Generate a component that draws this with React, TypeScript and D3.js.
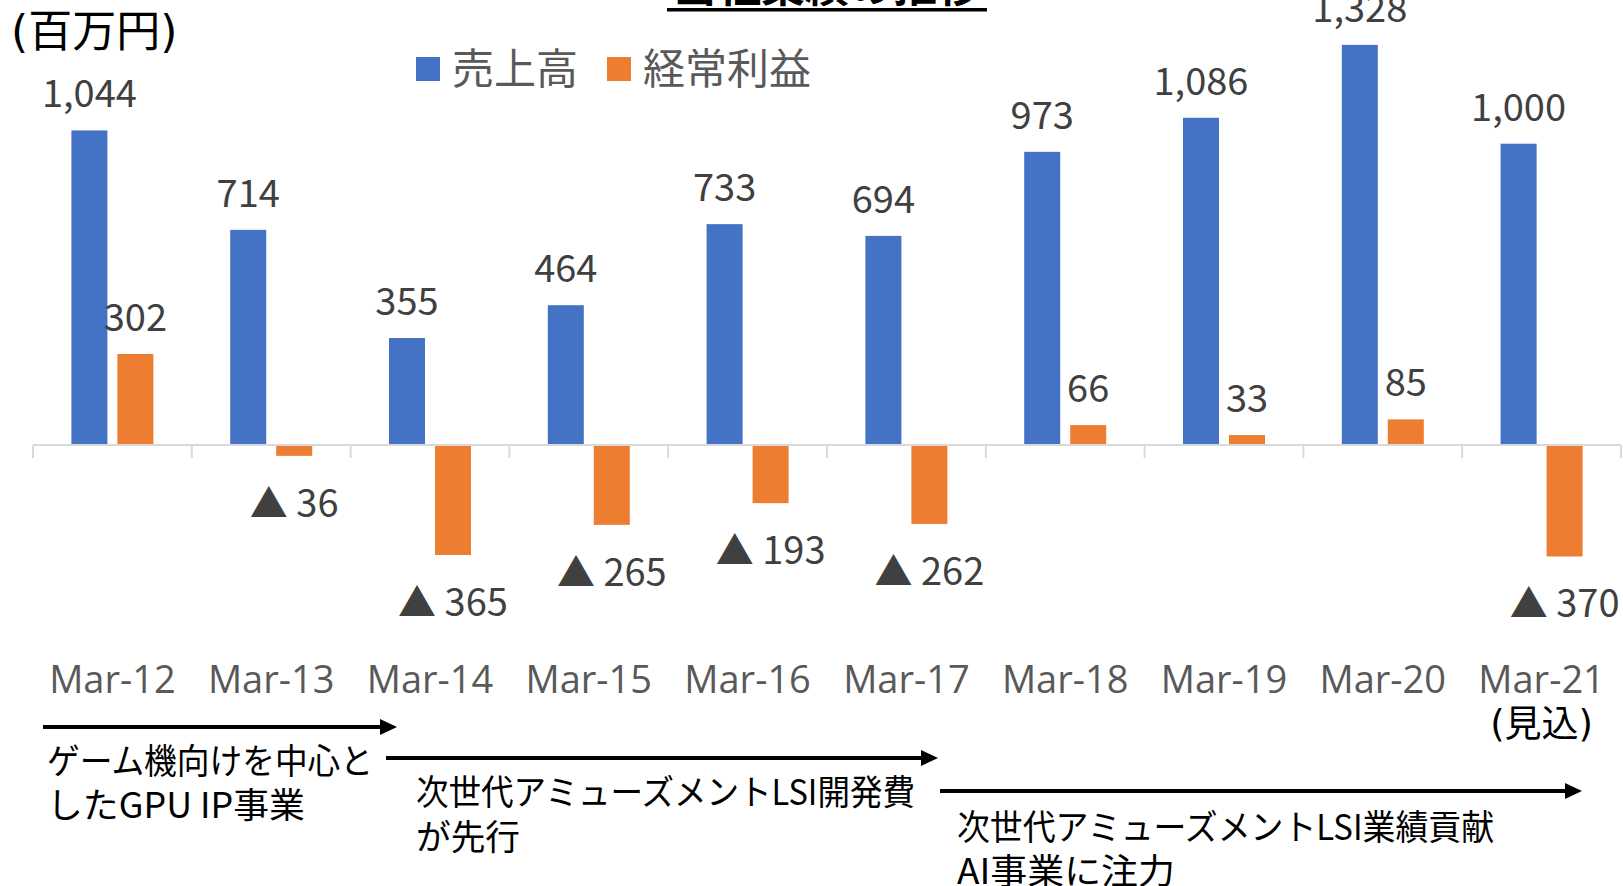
import React from "react";
import * as d3 from "d3";

const categories = ["Mar-12", "Mar-13", "Mar-14", "Mar-15", "Mar-16", "Mar-17", "Mar-18", "Mar-19", "Mar-20", "Mar-21"];
const sales = [1044, 714, 355, 464, 733, 694, 973, 1086, 1328, 1000];
const profit = [302, -36, -365, -265, -193, -262, 66, 33, 85, -370];
const seriesNames = ["売上高", "経常利益"];
const seriesKeys = ["sales", "profit"];
const colors = ["#4472C4", "#ED7D31"];
const titleText = "当社業績の推移";
const unitText = "(百万円)";
const forecastNote = "(見込)";
const phaseTexts = [
  ["ゲーム機向けを中心と", "したGPU IP事業"],
  ["次世代アミューズメントLSI開発費", "が先行"],
  ["次世代アミューズメントLSI業績貢献", "AI事業に注力"],
];

const W = 1623;
const H = 886;
const JP = "'Noto Sans CJK JP', 'Noto Sans', sans-serif";
const MIX = "'DejaVu Sans', 'Noto Sans CJK JP', sans-serif";
const LAT = "'Open Sans', 'Noto Sans', sans-serif";

export default function App() {
  const x = d3.scaleBand<string>().domain(categories).range([33, 1621]);
  const bw = x.bandwidth();
  const inner = d3
    .scaleBand<string>()
    .domain(seriesKeys)
    .range([0, bw])
    .paddingInner(0.217)
    .paddingOuter(0.835);
  const k = 0.3013;
  const zeroY = 445;
  const y = d3.scaleLinear().domain([-400, 1400]).range([zeroY + 400 * k, zeroY - 1400 * k]);
  const fmt = d3.format(",");
  const label = (v: number) => (v < 0 ? "▲ " + fmt(-v) : fmt(v));

  const rows = categories.map((c, i) => ({ c, vals: [sales[i], profit[i]] }));

  const arrows = [
    { x1: 43, x2: 397, y: 727 },
    { x1: 386, x2: 938, y: 758 },
    { x1: 940, x2: 1582, y: 791 },
  ];
  const phasePos = [
    { x: 47, y1: 774, y2: 818, w1: 326, w2: 258 },
    { x: 416, y1: 805, y2: 850, w1: 499, w2: 104 },
    { x: 957, y1: 840, y2: 884, w1: 537, w2: 218 },
  ];

  return (
    <svg
      width={W}
      height={H}
      viewBox={`0 0 ${W} ${H}`}
      style={{ position: "absolute", left: 0, top: 0, background: "#fff" }}
    >
      <rect x={0} y={0} width={W} height={H} fill="#fff" />
      <text x={827} y={2} textAnchor="middle" fontFamily={JP} fontSize={44} fontWeight={700} fill="#000">
        {titleText}
      </text>
      <rect x={667} y={8} width={320} height={3.5} fill="#000" />

      <text x={11} y={47} fontFamily={MIX} fontSize={44} fill="#000">
        {unitText}
      </text>

      {seriesNames.map((n, i) => {
        const lx = i === 0 ? 416 : 607;
        return (
          <g key={n}>
            <rect x={lx} y={57} width={24} height={24} fill={colors[i]} />
            <text x={lx + 36} y={84} fontFamily={JP} fontSize={42} fill="#595959">
              {n}
            </text>
          </g>
        );
      })}

      {rows.map((r) => (
        <g key={r.c} transform={`translate(${x(r.c)},0)`}>
          {r.vals.map((v, j) => {
            const bx = inner(seriesKeys[j])!;
            const top = Math.min(y(v), y(0));
            const h = Math.abs(y(v) - y(0));
            return <rect key={j} x={bx} y={top} width={inner.bandwidth()} height={h} fill={colors[j]} />;
          })}
        </g>
      ))}

      <line x1={x.range()[0]} x2={x.range()[1]} y1={zeroY} y2={zeroY} stroke="#d9d9d9" strokeWidth={2} />
      {[...categories.map((c) => x(c)!), x.range()[1]].map((tx, i) => (
        <line key={i} x1={tx} x2={tx} y1={zeroY} y2={zeroY + 13} stroke="#d9d9d9" strokeWidth={2} />
      ))}

      {rows.map((r) => (
        <g key={r.c + "l"} transform={`translate(${x(r.c)},0)`}>
          {r.vals.map((v, j) => {
            const cx = inner(seriesKeys[j])! + inner.bandwidth() / 2;
            const ly = v >= 0 ? y(v) - 23 : y(v) + 61;
            return (
              <text key={j} x={cx} y={ly} textAnchor="middle" fontFamily={JP} fontSize={38} fill="#404040">
                {label(v)}
              </text>
            );
          })}
        </g>
      ))}

      {categories.map((c) => (
        <text
          key={c}
          x={x(c)! + bw / 2}
          y={693}
          textAnchor="middle"
          fontFamily={LAT}
          fontSize={38}
          fill="#595959"
        >
          {c}
        </text>
      ))}
      <text
        x={x(categories[categories.length - 1])! + bw / 2}
        y={737}
        textAnchor="middle"
        fontFamily={MIX}
        fontSize={37}
        fill="#000"
      >
        {forecastNote}
      </text>

      {arrows.map((a, i) => (
        <g key={i}>
          <line x1={a.x1} x2={a.x2 - 14} y1={a.y} y2={a.y} stroke="#000" strokeWidth={4} />
          <path d={`M${a.x2},${a.y} L${a.x2 - 17},${a.y - 8} L${a.x2 - 17},${a.y + 8} Z`} fill="#000" />
        </g>
      ))}
      {phaseTexts.map((lines, i) => (
        <g key={i}>
          <text
            x={phasePos[i].x}
            y={phasePos[i].y1}
            fontFamily={JP}
            fontSize={35}
            fill="#000"
            textLength={phasePos[i].w1}
            lengthAdjust="spacingAndGlyphs"
          >
            {lines[0]}
          </text>
          <text
            x={phasePos[i].x}
            y={phasePos[i].y2}
            fontFamily={JP}
            fontSize={35}
            fill="#000"
            textLength={phasePos[i].w2}
            lengthAdjust="spacingAndGlyphs"
          >
            {lines[1]}
          </text>
        </g>
      ))}
    </svg>
  );
}
